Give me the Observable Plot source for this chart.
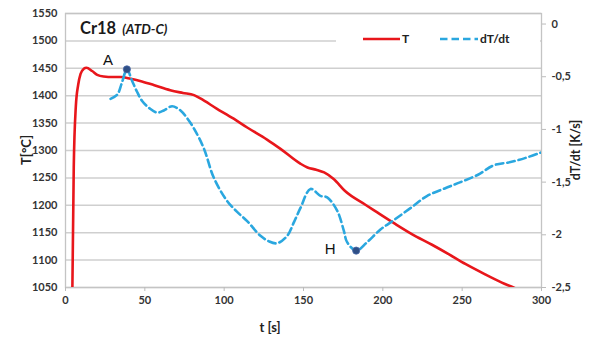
<!DOCTYPE html>
<html>
<head>
<meta charset="utf-8">
<script src="https://cdn.jsdelivr.net/npm/d3@7"></script>
<script src="https://cdn.jsdelivr.net/npm/@observablehq/plot@0.6"></script>
<style>
  html, body { margin: 0; padding: 0; background: #fff; }
  #chart svg { display: block; }
</style>
</head>
<body>
<div id="chart"></div>
<script>
// ---- data ----
const tTime = [4.3, 5.2, 6.5, 8.0, 9.5, 11.5, 13.2, 16.8, 20, 24, 30, 35, 41, 47, 56, 66, 74, 81, 85, 95, 106, 114.5, 127, 135.5, 148, 152.5, 158, 163, 169, 176.2, 189, 196.5, 207.8, 218, 231, 242, 252, 264.5, 275, 284.5, 287];
const tValue = [1040, 1269, 1380, 1420, 1440, 1449, 1451, 1445, 1438, 1435, 1434, 1434, 1431, 1427, 1419, 1410, 1405, 1401, 1395, 1377, 1358, 1342, 1320, 1303, 1276, 1269, 1265, 1260, 1248, 1226, 1201, 1187, 1166, 1148, 1128, 1110, 1093, 1074, 1059, 1047, 1043];

const dTime = [28.4, 32.6, 35.5, 38.7, 42, 45, 48.3, 53, 57.8, 62, 67.2, 72.5, 76.5, 80.9, 87.2, 93.5, 101.9, 108, 114.5, 122.9, 128, 133.4, 139.7, 144, 148.1, 154.4, 160.7, 164.9, 171.2, 175.4, 177.5, 183.2, 190.1, 198.5, 207, 218, 228, 239, 249, 260, 270, 280.5, 290, 299.4];
const dValue = [-0.71, -0.67, -0.56, -0.43, -0.54, -0.64, -0.73, -0.8, -0.84, -0.82, -0.78, -0.82, -0.89, -0.99, -1.18, -1.46, -1.68, -1.78, -1.87, -2.01, -2.06, -2.08, -2.01, -1.88, -1.745, -1.565, -1.63, -1.645, -1.77, -1.96, -2.07, -2.15, -2.07, -1.95, -1.86, -1.74, -1.63, -1.56, -1.5, -1.43, -1.34, -1.31, -1.27, -1.22];

const pointLabels = ["A", "H"];
const pointTime = [38.7, 183.2];
const pointValue = [-0.43, -2.15];

const xTicks = [0, 50, 100, 150, 200, 250, 300];
const leftTicks = [1050, 1100, 1150, 1200, 1250, 1300, 1350, 1400, 1450, 1500, 1550];
const rightTicks = [0, -0.5, -1, -1.5, -2, -2.5];

const seriesNames = ["T", "dT/dt"];
const titleMain = "Cr18";
const titleSub = "(ATD-C)";
const xLabel = "t [s]";
const yLabel = "T[\u00B0C]";
const y2Label = "dT/dt [K/s]";

// ---- secondary axis mapping: dT/dt domain [-2.5, 0.1] onto T domain [1050, 1550] ----
const y2Domain = [-2.5, 0.1];
const yDomain = [1050, 1550];
const toT = v => yDomain[0] + (v - y2Domain[0]) * (yDomain[1] - yDomain[0]) / (y2Domain[1] - y2Domain[0]);
const fromT = t => y2Domain[0] + (t - yDomain[0]) * (y2Domain[1] - y2Domain[0]) / (yDomain[1] - yDomain[0]);

const tempData = tTime.map((t, i) => ({t, T: tValue[i]}));
const rateData = dTime.map((t, i) => ({t, v: dValue[i]}));
const points = pointLabels.map((l, i) => ({label: l, t: pointTime[i], v: pointValue[i]}));

const RED = "#e8161b";
const BLUE = "#2aa7df";
const GRID = "#cfcfcf";
const FONT = "Lato, 'Open Sans', sans-serif";
const labelStyle = {fontSize: 15, fontWeight: "normal", fill: "#111", fontFamily: "'Liberation Sans', Arial, sans-serif"};

const chart = Plot.plot({
  width: 598,
  height: 340,
  marginLeft: 65,
  marginRight: 57,
  marginTop: 13,
  marginBottom: 53,
  style: {fontFamily: FONT, fontSize: "11px", fontWeight: "bold", color: "#333", background: "#fff"},
  x: {domain: [0, 300]},
  y: {domain: yDomain},
  marks: [
    Plot.gridY(leftTicks, {stroke: GRID, strokeOpacity: 1, strokeWidth: 1.5}),
    Plot.frame({stroke: "#c4c4c4", strokeWidth: 1.3}),
    Plot.axisY(leftTicks, {tickSize: 0, tickPadding: 8, label: null, fill: "#333", tickFormat: d => String(d)}),
    Plot.axisY(rightTicks.map(toT), {
      anchor: "right", tickSize: 4, tickPadding: 6, label: null, stroke: "#bbb", fill: "#333",
      tickFormat: d => String(Math.round(fromT(d) * 10) / 10).replace(".", ",")
    }),
    Plot.axisX(xTicks, {tickSize: 4, tickPadding: 5, label: null, stroke: "#bbb", fill: "#333", tickFormat: d => String(d)}),
    Plot.line(tempData, {x: "t", y: "T", stroke: RED, strokeWidth: 2.6, curve: "monotone-x", clip: true}),
    Plot.line(rateData, {x: "t", y: d => toT(d.v), stroke: BLUE, strokeWidth: 2.6, strokeDasharray: "7.5,4", curve: "catmull-rom", clip: true}),
    Plot.dot(points, {x: "t", y: d => toT(d.v), r: 3.6, fill: "#2f4f86", stroke: "#4a6aa8", strokeWidth: 0.8}),
    Plot.text(points.filter(d => d.label === "A"), {x: "t", y: d => toT(d.v), text: "label", dx: -19, dy: -9, ...labelStyle}),
    Plot.text(points.filter(d => d.label === "H"), {x: "t", y: d => toT(d.v), text: "label", dx: -26, dy: -1, ...labelStyle})
  ]
});

document.getElementById("chart").appendChild(chart);

// ---- layout extras: title, legend, axis titles ----
const svg = d3.select(chart);

const title = svg.append("text")
  .attr("x", 80).attr("y", 34).attr("text-anchor", "start")
  .attr("font-family", FONT).attr("fill", "#1a1a1a");
title.append("tspan").attr("font-size", 16.5).attr("font-weight", "bold").text(titleMain);
title.append("tspan").attr("dx", 6).attr("font-size", 13.5).attr("font-weight", "bold").attr("font-style", "italic").text(titleSub);

const legend = svg.append("g").attr("text-anchor", "start");
legend.append("rect").attr("x", 336).attr("y", 30).attr("width", 204).attr("height", 19).attr("fill", "#fff");
legend.append("line").attr("x1", 363).attr("x2", 400).attr("y1", 39).attr("y2", 39)
  .attr("stroke", RED).attr("stroke-width", 2.6);
legend.append("text").attr("x", 402).attr("y", 43).attr("font-family", FONT).attr("font-size", 12).attr("font-weight", "bold").attr("fill", "#222").text(seriesNames[0]);
legend.append("line").attr("x1", 440).attr("x2", 478).attr("y1", 39).attr("y2", 39)
  .attr("stroke", BLUE).attr("stroke-width", 2.6).attr("stroke-dasharray", "7.5,4");
legend.append("text").attr("x", 480).attr("y", 43).attr("font-family", FONT).attr("font-size", 12).attr("font-weight", "bold").attr("fill", "#222").text(seriesNames[1]);

svg.append("text").attr("x", 270).attr("y", 332).attr("text-anchor", "middle")
  .attr("font-family", FONT).attr("font-size", 13).attr("font-weight", "bold").attr("fill", "#222").text(xLabel);
svg.append("text").attr("transform", "translate(31,150) rotate(-90)").attr("text-anchor", "middle")
  .attr("font-family", FONT).attr("font-size", 13).attr("font-weight", "bold").attr("fill", "#222").text(yLabel);
svg.append("text").attr("transform", "translate(580,150) rotate(-90)").attr("text-anchor", "middle")
  .attr("font-family", FONT).attr("font-size", 12.5).attr("font-weight", "bold").attr("fill", "#222").text(y2Label);
</script>
</body>
</html>
